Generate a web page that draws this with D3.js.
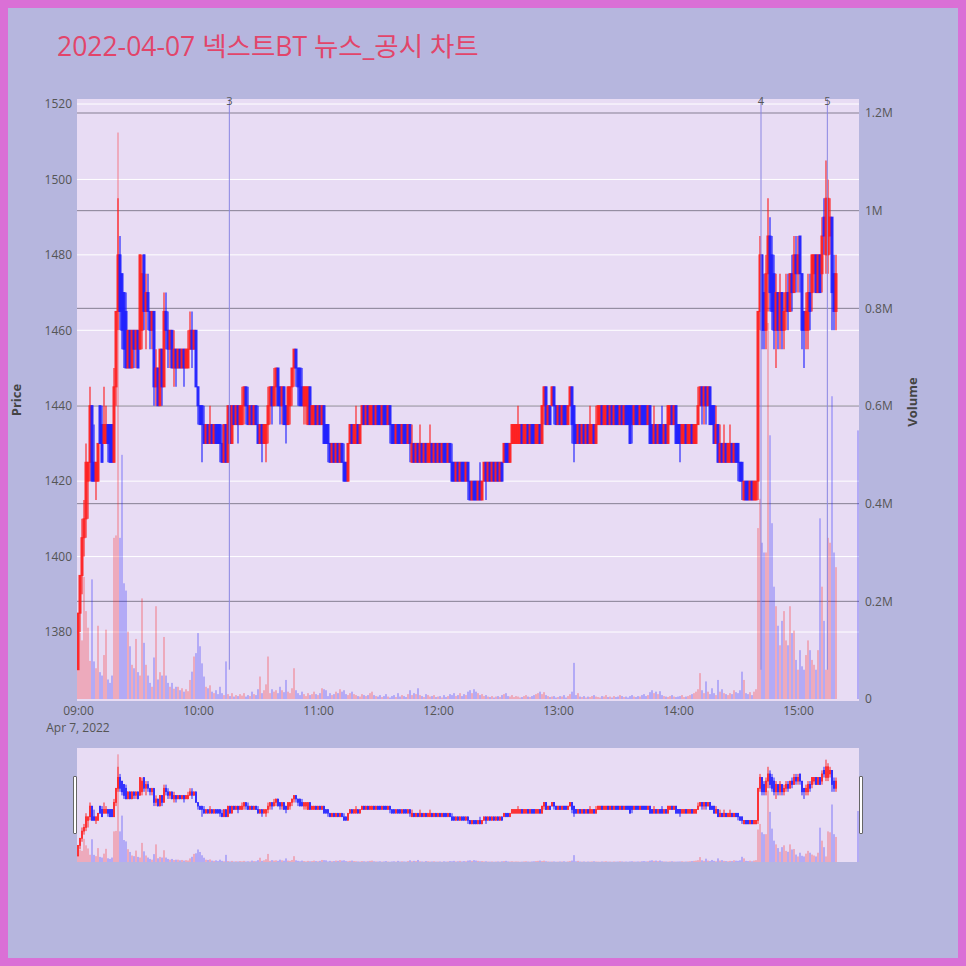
<!DOCTYPE html>
<html><head><meta charset="utf-8">
<script src="https://cdn.jsdelivr.net/npm/d3@7/dist/d3.min.js"></script>
<style>body{margin:0;background:#b6b6de}svg{display:block}</style>
</head><body>
<script>
// ---- data (1-minute candles from 09:00, KRW) ----
const open = [
1370,1385,1395,1405,1410,1420,1425,1440,1425,1420,
1420,1440,1435,1430,1430,1435,1435,1435,1425,1445,
1465,1480,1475,1470,1465,1450,1460,1450,1460,1455,
1460,1455,1460,1480,1465,1470,1465,1460,1465,1445,
1450,1440,1455,1445,1465,1460,1455,1460,1450,1455,
1450,1455,1450,1455,1450,1450,1455,1460,1455,1460,
1445,1440,1440,1435,1430,1435,1430,1435,1430,1435,
1435,1435,1430,1425,1435,1425,1440,1430,1440,1435,
1440,1435,1435,1440,1445,1440,1435,1440,1435,1440,
1435,1430,1435,1430,1430,1435,1440,1445,1440,1445,
1450,1445,1440,1445,1440,1435,1440,1445,1450,1455,
1450,1450,1445,1440,1440,1435,1445,1435,1435,1440,
1435,1440,1435,1440,1435,1435,1430,1425,1430,1425,
1430,1425,1430,1425,1425,1420,1430,1435,1430,1430,
1435,1430,1435,1440,1435,1440,1435,1435,1440,1435,
1440,1440,1435,1440,1440,1435,1440,1435,1435,1430,
1435,1435,1430,1435,1435,1430,1435,1425,1430,1425,
1430,1425,1430,1425,1430,1425,1425,1430,1425,1430,
1425,1430,1425,1430,1430,1425,1430,1425,1425,1420,
1425,1420,1425,1425,1420,1425,1420,1415,1420,1420,
1415,1420,1415,1420,1425,1420,1425,1420,1425,1420,
1425,1420,1425,1425,1430,1430,1425,1430,1430,1430,
1430,1430,1435,1430,1430,1435,1430,1435,1435,1430,
1430,1435,1430,1440,1445,1435,1440,1440,1445,1440,
1435,1440,1435,1440,1440,1435,1440,1445,1440,1435,
1430,1435,1430,1435,1430,1435,1430,1430,1435,1430,
1435,1435,1440,1435,1435,1440,1435,1440,1435,1440,
1440,1435,1440,1435,1440,1440,1440,1440,1435,1440,
1440,1435,1440,1440,1440,1435,1440,1435,1430,1435,
1430,1435,1435,1430,1435,1430,1435,1440,1435,1440,
1435,1435,1430,1430,1435,1430,1430,1435,1430,1430,
1435,1440,1445,1440,1445,1440,1445,1440,1440,1430,
1435,1425,1430,1425,1430,1425,1425,1430,1425,1430,
1430,1425,1425,1415,1420,1420,1415,1420,1415,1415,
1420,1465,1480,1470,1460,1475,1485,1480,1475,1460,
1470,1460,1470,1460,1465,1470,1465,1475,1470,1480,
1475,1485,1475,1465,1460,1460,1470,1470,1475,1480,
1470,1480,1475,1490,1480,1480,1485,1490,1475,1465];
const high = [
1385,1395,1410,1415,1430,1425,1445,1440,1435,1425,
1430,1440,1440,1445,1440,1435,1435,1435,1450,1465,
1495,1485,1475,1470,1470,1460,1460,1460,1460,1460,
1460,1480,1480,1480,1475,1475,1465,1465,1465,1455,
1450,1455,1455,1470,1470,1465,1460,1460,1460,1455,
1455,1455,1455,1455,1455,1460,1465,1465,1460,1460,
1445,1440,1440,1440,1435,1435,1440,1435,1435,1435,
1435,1435,1435,1435,1435,1440,1440,1440,1440,1440,
1440,1440,1445,1445,1445,1445,1440,1440,1440,1440,
1440,1435,1435,1435,1435,1445,1445,1445,1450,1450,
1450,1445,1445,1445,1440,1445,1445,1450,1455,1455,
1450,1450,1450,1445,1445,1445,1445,1440,1440,1440,
1440,1440,1440,1440,1435,1435,1430,1430,1430,1430,
1430,1430,1430,1430,1425,1430,1435,1435,1435,1440,
1435,1435,1440,1440,1440,1440,1440,1440,1440,1440,
1440,1440,1440,1440,1440,1440,1440,1435,1435,1435,
1435,1435,1435,1435,1435,1435,1435,1435,1430,1430,
1430,1435,1430,1430,1430,1430,1435,1430,1430,1430,
1430,1430,1430,1430,1430,1430,1430,1430,1425,1425,
1425,1425,1425,1425,1425,1425,1420,1420,1420,1420,
1420,1425,1420,1425,1425,1425,1425,1425,1425,1425,
1425,1425,1425,1430,1430,1430,1430,1435,1435,1435,
1440,1435,1435,1435,1435,1435,1435,1435,1435,1435,
1435,1435,1440,1445,1445,1440,1440,1445,1445,1440,
1440,1440,1440,1440,1440,1440,1445,1445,1440,1435,
1435,1435,1435,1435,1435,1435,1440,1435,1435,1440,
1440,1440,1440,1440,1440,1440,1440,1440,1440,1440,
1440,1440,1440,1440,1440,1440,1440,1440,1440,1440,
1440,1440,1440,1440,1440,1440,1440,1435,1440,1435,
1435,1435,1440,1435,1435,1440,1440,1440,1440,1440,
1435,1435,1435,1435,1435,1435,1435,1435,1435,1435,
1445,1445,1445,1445,1445,1445,1445,1440,1440,1440,
1435,1435,1430,1435,1430,1430,1435,1430,1430,1430,
1430,1425,1425,1420,1420,1420,1420,1420,1420,1420,
1465,1485,1480,1475,1480,1495,1490,1485,1480,1475,
1470,1475,1470,1470,1475,1475,1475,1480,1485,1485,
1485,1485,1475,1465,1470,1475,1475,1480,1480,1480,
1480,1480,1490,1495,1505,1500,1495,1490,1480,1480];
const low = [
1370,1380,1390,1400,1405,1410,1420,1420,1420,1415,
1420,1430,1425,1430,1430,1425,1425,1425,1425,1440,
1460,1460,1455,1450,1450,1450,1450,1450,1450,1450,
1450,1455,1455,1460,1455,1460,1455,1455,1440,1440,
1440,1440,1440,1445,1455,1450,1450,1450,1445,1445,
1450,1450,1450,1445,1450,1450,1455,1450,1455,1445,
1435,1435,1425,1430,1430,1430,1430,1430,1430,1430,
1430,1425,1425,1425,1425,1425,1430,1430,1435,1435,
1430,1435,1435,1435,1435,1435,1435,1435,1435,1435,
1430,1430,1425,1430,1425,1430,1435,1435,1440,1440,
1440,1435,1435,1435,1430,1435,1435,1440,1445,1445,
1440,1440,1440,1435,1435,1435,1435,1435,1435,1435,
1435,1435,1435,1430,1430,1425,1425,1425,1425,1425,
1425,1425,1425,1420,1420,1420,1430,1430,1430,1430,
1430,1430,1435,1435,1435,1435,1435,1435,1435,1435,
1435,1435,1435,1435,1435,1435,1430,1430,1430,1430,
1430,1430,1430,1430,1430,1430,1425,1425,1425,1425,
1425,1425,1425,1425,1425,1425,1425,1425,1425,1425,
1425,1425,1425,1425,1425,1425,1425,1420,1420,1420,
1420,1420,1420,1420,1420,1415,1415,1415,1415,1415,
1415,1415,1415,1420,1415,1420,1420,1420,1420,1420,
1420,1420,1420,1425,1425,1425,1425,1430,1430,1430,
1430,1430,1430,1430,1430,1430,1430,1430,1430,1430,
1430,1430,1430,1435,1435,1435,1435,1440,1435,1435,
1435,1435,1435,1435,1435,1435,1440,1430,1425,1430,
1430,1430,1430,1430,1430,1430,1430,1430,1430,1430,
1435,1435,1435,1435,1435,1435,1435,1435,1435,1435,
1435,1435,1435,1435,1435,1435,1430,1430,1435,1435,
1435,1435,1435,1435,1435,1435,1430,1430,1430,1430,
1430,1430,1430,1430,1430,1430,1435,1435,1435,1430,
1430,1425,1430,1430,1430,1430,1430,1430,1430,1430,
1435,1440,1435,1435,1435,1440,1435,1435,1430,1430,
1425,1425,1425,1425,1425,1425,1425,1425,1425,1425,
1420,1420,1415,1415,1415,1415,1415,1415,1415,1415,
1415,1460,1455,1455,1455,1465,1465,1460,1455,1450,
1455,1455,1455,1455,1460,1460,1465,1465,1470,1470,
1470,1470,1455,1450,1455,1455,1460,1465,1470,1470,
1470,1470,1470,1480,1475,1475,1480,1460,1460,1460];
const close = [
1385,1395,1405,1410,1425,1425,1440,1420,1420,1425,
1430,1430,1425,1435,1435,1430,1425,1425,1445,1465,
1480,1465,1460,1455,1450,1460,1450,1460,1455,1460,
1450,1480,1475,1465,1470,1465,1460,1465,1445,1450,
1440,1455,1445,1465,1460,1455,1460,1450,1455,1450,
1455,1450,1455,1450,1455,1455,1460,1455,1460,1445,
1440,1435,1435,1430,1435,1430,1435,1430,1435,1430,
1430,1430,1425,1435,1425,1440,1430,1440,1435,1440,
1435,1440,1440,1445,1440,1435,1440,1435,1440,1435,
1430,1435,1430,1435,1435,1440,1445,1440,1445,1450,
1440,1440,1445,1435,1435,1445,1445,1450,1455,1450,
1445,1440,1440,1445,1445,1445,1435,1440,1440,1435,
1440,1435,1440,1430,1430,1430,1425,1430,1425,1430,
1425,1430,1425,1420,1420,1430,1435,1430,1435,1435,
1430,1435,1440,1435,1440,1435,1440,1440,1435,1440,
1435,1435,1440,1435,1435,1440,1435,1430,1430,1435,
1430,1430,1435,1430,1430,1435,1430,1430,1425,1430,
1425,1430,1425,1430,1425,1430,1430,1425,1430,1425,
1430,1425,1430,1425,1425,1430,1425,1420,1420,1425,
1420,1425,1420,1420,1425,1420,1415,1420,1415,1415,
1420,1415,1420,1425,1420,1425,1420,1425,1420,1425,
1420,1425,1420,1430,1425,1425,1430,1435,1435,1435,
1435,1435,1430,1435,1435,1430,1435,1430,1430,1435,
1435,1430,1440,1445,1435,1440,1435,1445,1440,1435,
1440,1435,1440,1435,1435,1440,1445,1435,1430,1430,
1435,1430,1435,1430,1435,1430,1435,1435,1430,1435,
1440,1440,1435,1440,1440,1435,1440,1435,1440,1435,
1435,1440,1435,1440,1435,1435,1430,1435,1440,1435,
1435,1440,1435,1435,1435,1440,1430,1430,1435,1430,
1435,1430,1430,1435,1430,1440,1440,1435,1440,1430,
1430,1430,1435,1435,1430,1435,1435,1430,1435,1435,
1440,1445,1440,1445,1440,1445,1435,1435,1430,1435,
1425,1430,1425,1430,1425,1430,1430,1425,1430,1425,
1425,1420,1420,1420,1415,1415,1420,1415,1420,1420,
1465,1480,1460,1460,1475,1485,1470,1465,1460,1470,
1460,1470,1460,1465,1470,1465,1475,1470,1480,1475,
1480,1475,1460,1460,1465,1470,1465,1480,1480,1470,
1480,1470,1485,1485,1495,1495,1490,1470,1465,1475];
// volume in thousands of shares
const volumeK = [
60,135,120,250,180,146,78,245,77,63,
150,55,48,90,142,40,33,48,330,335,
1160,330,500,237,222,138,108,70,63,123,
55,48,206,115,70,48,33,25,85,190,
40,55,48,127,48,33,25,33,21,25,
25,18,22,15,20,16,39,56,87,94,
135,108,73,46,25,22,28,15,12,18,
10,25,12,8,77,10,6,12,5,8,
6,10,7,12,5,8,6,15,10,8,
20,46,12,18,30,87,12,20,15,18,
12,25,18,14,39,15,12,22,63,18,
12,8,15,10,6,12,8,10,15,10,
8,12,22,20,18,6,12,8,10,15,
12,20,15,18,10,8,12,15,10,8,
6,5,10,8,6,8,12,15,8,6,
5,8,4,6,10,5,3,6,8,4,
12,5,8,6,4,10,18,8,12,10,
22,8,6,4,10,8,5,6,8,4,
5,6,3,8,4,6,10,8,12,6,
8,12,6,10,8,15,18,12,20,15,
12,8,10,6,8,5,4,6,3,5,
6,4,8,10,12,6,5,8,4,6,
5,3,4,6,8,5,4,6,8,10,
12,15,10,14,8,6,4,5,6,3,
4,6,5,8,3,6,10,15,74,8,
12,5,4,6,3,5,4,6,8,5,
4,3,6,5,8,4,5,3,6,4,
5,8,6,4,5,3,6,8,5,4,
6,5,8,10,6,8,14,18,12,15,
10,16,8,6,5,4,6,8,5,4,
5,6,8,4,5,6,8,10,12,15,
20,53,18,12,36,15,10,22,12,8,
39,15,20,12,10,8,12,10,18,14,
12,18,56,39,12,10,14,8,15,20,
350,410,320,300,300,770,540,360,230,190,
150,110,160,180,120,110,190,135,140,80,
60,100,67,60,90,120,100,80,70,60,
100,370,230,160,60,330,320,620,300,270];
const auctionTime = ["15:30"];
const auctionVolumeK = [550];
const priceTicks = [1380,1400,1420,1440,1460,1480,1500,1520];
const volumeTicks = [0,200,400,600,800,1000,1200];
const volumeTickLabels = ["0","0.2M","0.4M","0.6M","0.8M","1M","1.2M"];
const hourTicks = ["09:00","10:00","11:00","12:00","13:00","14:00","15:00"];
const eventLabels = ["3","4","5"];
const eventTimes = ["10:15:40","14:41:30","15:14:40"];
const titleText = "2022-04-07 넥스트BT 뉴스_공시 차트";

// ---- drawing ----
const W = 966, H = 966;
const RED = "#ff1a1a", BLUE = "#1a1aff";
const FONT = "'Open Sans','Noto Sans CJK KR',sans-serif";
const day = d3.timeParse("%Y-%m-%d %H:%M:%S");
const at = s => day("2022-04-07 " + (s.length === 5 ? s + ":00" : s));
const t0 = at("09:00");
const times = open.map((_, i) => d3.timeMinute.offset(t0, i));

const L = 77, R = 859, T = 99, B = 701;
const x = d3.scaleTime().domain([at("08:59:30"), at("15:30:30")]).range([L, R]);
const yP = d3.scaleLinear().domain([1380, 1520]).range([632, 104]);
const yV = d3.scaleLinear().domain([0, 1200]).range([699, 113]);
const ST = 748, SB = 862;
const yPs = d3.scaleLinear().domain([yP.invert(B), yP.invert(T)]).range([SB, ST]);
const yVs = d3.scaleLinear().domain([0, yV.invert(T)]).range([SB, ST]);

const svg = d3.select("body").append("svg").attr("width", W).attr("height", H);
svg.append("rect").attr("x", 4).attr("y", 4).attr("width", W - 8).attr("height", H - 8)
  .attr("fill", "#b6b6de").attr("stroke", "#da70d6").attr("stroke-width", 8);

svg.append("text").attr("x", 57).attr("y", 56).text(titleText)
  .attr("font-family", FONT).attr("font-size", 26.5).attr("fill", "#e2456a");

const defs = svg.append("defs");
defs.append("clipPath").attr("id", "cp").append("rect").attr("x", L).attr("y", T).attr("width", R - L).attr("height", B - T);
defs.append("clipPath").attr("id", "cs").append("rect").attr("x", L).attr("y", ST).attr("width", R - L).attr("height", SB - ST);

svg.append("rect").attr("x", L).attr("y", T).attr("width", R - L).attr("height", B - T).attr("fill", "#e8dcf4");

// price grid (white)
svg.append("g").selectAll("line").data(priceTicks).join("line")
  .attr("x1", L).attr("x2", R).attr("y1", d => yP(d)).attr("y2", d => yP(d))
  .attr("stroke", "#ffffff").attr("stroke-width", 1);
// volume grid (dark)
svg.append("g").selectAll("line").data(volumeTicks.filter(d => d > 0)).join("line")
  .attr("x1", L).attr("x2", R).attr("y1", d => yV(d)).attr("y2", d => yV(d))
  .attr("stroke", "#857f92").attr("stroke-width", 1);

function drawData(g, yp, yv, main) {
  const vol = g.append("g").attr("opacity", 0.28);
  const vdata = times.map((t, i) => ({ t, v: volumeK[i], up: close[i] >= open[i] }));
  auctionTime.forEach((s, k) => vdata.push({ t: at(s), v: auctionVolumeK[k], up: false }));
  vol.selectAll("rect").data(vdata).join("rect")
    .attr("x", d => x(d.t) - 0.9).attr("width", 1.8)
    .attr("y", d => yv(d.v)).attr("height", d => yv(0) - yv(d.v))
    .attr("fill", d => d.up ? RED : BLUE);
  const cg = g.append("g");
  const cd = times.map((t, i) => ({ t, o: open[i], h: high[i], l: low[i], c: close[i] }));
  const c = cg.selectAll("g").data(cd).join("g")
    .attr("opacity", 0.92);
  c.append("line")
    .attr("x1", d => x(d.t)).attr("x2", d => x(d.t))
    .attr("y1", d => yp(d.h)).attr("y2", d => yp(d.l))
    .attr("stroke", d => d.c >= d.o ? RED : BLUE).attr("stroke-width", main ? 1.2 : 1);
  c.append("rect")
    .attr("x", d => x(d.t) - (main ? 1 : 0.7)).attr("width", main ? 2 : 1.4)
    .attr("y", d => yp(Math.max(d.o, d.c)))
    .attr("height", d => Math.max(Math.abs(yp(d.o) - yp(d.c)), 0.8))
    .attr("fill", d => d.c >= d.o ? RED : BLUE)
    .attr("stroke", d => d.c >= d.o ? RED : BLUE).attr("stroke-width", main ? 1 : 0.6);
}
const mainG = svg.append("g").attr("clip-path", "url(#cp)");
drawData(mainG, yP, yV, true);

// event lines
const ev = svg.append("g");
eventTimes.forEach((s, k) => {
  const xx = x(at(s));
  ev.append("line").attr("x1", xx).attr("x2", xx).attr("y1", T).attr("y2", yP(1370))
    .attr("stroke", "#8a86e2").attr("stroke-width", 1);
  ev.append("text").attr("x", xx).attr("y", 105).attr("text-anchor", "middle")
    .attr("font-family", FONT).attr("font-size", 11).attr("fill", "#555").text(eventLabels[k]);
});

// axes
const axL = svg.append("g").attr("transform", `translate(${L},0)`)
  .call(d3.axisLeft(yP).tickValues(priceTicks).tickFormat(d3.format("d")).tickSize(0).tickPadding(5));
const axR = svg.append("g").attr("transform", `translate(${R},0)`)
  .call(d3.axisRight(yV).tickValues(volumeTicks).tickFormat((d, i) => volumeTickLabels[i]).tickSize(0).tickPadding(6));
const axB = svg.append("g").attr("transform", `translate(0,${B})`)
  .call(d3.axisBottom(x).tickValues(hourTicks.map(at)).tickFormat(d3.timeFormat("%H:%M")).tickSize(0).tickPadding(5));
[axL, axR, axB].forEach(a => {
  a.select(".domain").remove();
  a.selectAll("text").attr("font-family", FONT).attr("font-size", 12).attr("fill", "#555");
});
svg.append("text").attr("x", x(t0)).attr("y", 732).attr("text-anchor", "middle")
  .attr("font-family", FONT).attr("font-size", 12).attr("fill", "#555").text("Apr 7, 2022");

svg.append("text").attr("transform", "translate(21,400) rotate(-90)").attr("text-anchor", "middle")
  .attr("font-family", FONT).attr("font-size", 13).attr("font-weight", "bold").attr("fill", "#444").text("Price");
svg.append("text").attr("transform", "translate(917,402) rotate(-90)").attr("text-anchor", "middle")
  .attr("font-family", FONT).attr("font-size", 13).attr("font-weight", "bold").attr("fill", "#444").text("Volume");

// range slider
svg.append("rect").attr("x", L).attr("y", ST).attr("width", R - L).attr("height", SB - ST).attr("fill", "#e8dcf4");
const sG = svg.append("g").attr("clip-path", "url(#cs)");
drawData(sG, yPs, yVs, false);
[L - 3, R + 1].forEach(gx => {
  svg.append("rect").attr("x", gx - 0.5).attr("y", 776.5).attr("width", 3).attr("height", 57)
    .attr("fill", "#fff").attr("stroke", "#666").attr("stroke-width", 1).attr("rx", 0.5);
});
</script>
</body></html>
